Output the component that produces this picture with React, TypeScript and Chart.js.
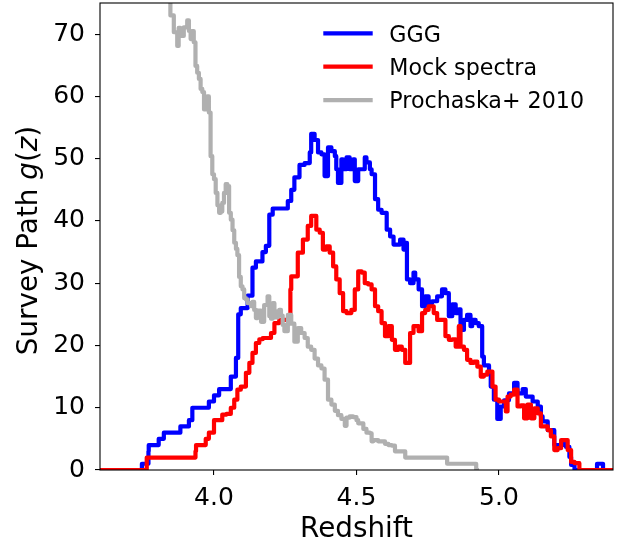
import React, { useEffect, useRef } from 'react';
import { Chart, registerables } from 'chart.js';

Chart.register(...registerables);

const FONT = '"DejaVu Sans", sans-serif';

const seriesNames = ['GGG', 'Mock spectra', 'Prochaska+ 2010'];
const seriesColors = ['#0000ff', '#ff0000', '#b0b0b0'];

const xTitle = 'Redshift';
const yTitleParts: [string, boolean][] = [
  ['Survey Path ', false],
  ['g', true],
  ['(', false],
  ['z', true],
  [')', false],
];

const xRange = [3.6, 5.4];
const yRange = [0, 75];
const xTickValues = [4.0, 4.5, 5.0];
const yTickValues = [0, 10, 20, 30, 40, 50, 60, 70];

// [redshift, g(z)]
const gggPoints: [number, number][] = [
  [3.6, 0], [3.747, 0], [3.748, 1], [3.770, 1], [3.771, 3], [3.806, 4], [3.824, 5], [3.882, 6],
  [3.912, 7], [3.924, 8], [3.982, 10], [4.0, 11], [4.018, 12], [4.059, 13], [4.077, 15], [4.085, 18],
  [4.094, 25], [4.118, 26], [4.135, 28], [4.147, 32.5], [4.170, 33.5], [4.182, 35], [4.194, 36],
  [4.206, 41], [4.224, 42], [4.259, 42], [4.271, 43.2], [4.282, 45], [4.300, 47], [4.318, 49],
  [4.336, 49.3], [4.341, 51], [4.353, 54], [4.365, 53], [4.377, 51], [4.388, 50.7], [4.400, 47.2],
  [4.412, 51.8], [4.424, 51.2], [4.429, 50.4], [4.435, 48.3], [4.447, 46.1], [4.453, 49.9],
  [4.465, 48.3], [4.476, 50.2], [4.488, 48.3], [4.494, 49.9], [4.506, 46.4], [4.518, 48.3],
  [4.529, 48.3], [4.535, 50.2], [4.547, 49.4], [4.553, 48.3], [4.565, 47.5], [4.576, 43.5],
  [4.588, 41.8], [4.606, 41.3], [4.618, 38.6], [4.630, 37.5], [4.635, 36.2], [4.653, 36.2],
  [4.665, 37], [4.671, 35.4], [4.677, 36.5], [4.688, 30.6], [4.700, 30], [4.706, 31.7],
  [4.718, 30.6], [4.730, 29], [4.741, 26.3], [4.753, 27.9], [4.765, 26.8], [4.783, 27.1],
  [4.800, 27.9], [4.812, 29], [4.824, 28.4], [4.836, 24.7], [4.848, 26.6], [4.859, 25.2],
  [4.865, 25.8], [4.877, 22.5], [4.888, 24.1], [4.900, 24.9], [4.906, 23.1], [4.918, 24.1],
  [4.929, 23.6], [4.941, 23.1], [4.947, 18.2], [4.953, 16.8], [4.965, 16.8], [4.971, 15.6],
  [4.982, 13.4], [4.994, 11.3], [5.006, 8.2], [5.018, 10.2], [5.024, 11.2], [5.035, 11.2],
  [5.053, 12.3], [5.065, 14], [5.077, 12.3], [5.083, 12.3], [5.094, 13], [5.106, 11.8],
  [5.118, 11.8], [5.124, 11], [5.136, 11], [5.147, 10.2], [5.153, 8.6], [5.171, 7.8],
  [5.182, 6.4], [5.194, 6.4], [5.206, 4], [5.224, 4], [5.235, 4.8], [5.247, 3.7], [5.253, 2.1],
  [5.265, 0.8], [5.271, 0], [5.344, 0], [5.347, 1], [5.365, 1], [5.368, 0], [5.41, 0],
];

const mockPoints: [number, number][] = [
  [3.6, 0], [3.764, 0], [3.766, 2], [3.935, 2], [3.937, 3], [3.953, 4], [3.971, 4], [3.982, 5],
  [4.0, 6], [4.009, 8], [4.029, 8], [4.044, 8.9], [4.059, 9], [4.071, 10], [4.082, 11.3],
  [4.094, 12.9], [4.112, 13.4], [4.124, 15.6], [4.135, 17.2], [4.147, 18.8], [4.159, 20.4],
  [4.171, 21], [4.200, 21.2], [4.212, 22], [4.229, 23.6], [4.247, 24.1], [4.268, 24.1],
  [4.271, 29], [4.294, 31.1], [4.312, 34.9], [4.329, 37], [4.341, 39.2], [4.359, 40.8],
  [4.371, 38.6], [4.382, 38.1], [4.394, 35.4], [4.406, 35.9], [4.418, 34.9], [4.429, 32.7],
  [4.441, 30.6], [4.453, 28.4], [4.465, 25.5], [4.482, 25.2], [4.494, 25.7], [4.506, 29],
  [4.518, 31.9], [4.529, 31.7], [4.541, 30], [4.553, 29.8], [4.565, 29], [4.576, 26.3],
  [4.588, 25.5], [4.600, 23.6], [4.612, 21.5], [4.624, 23.1], [4.635, 20.9], [4.647, 19.3],
  [4.659, 19.8], [4.671, 19.3], [4.688, 17.2], [4.700, 22], [4.718, 23.1], [4.730, 22.3],
  [4.741, 25.2], [4.753, 25.7], [4.771, 26.3], [4.783, 25.2], [4.800, 24.1], [4.812, 24.1],
  [4.824, 21.5], [4.836, 20.9], [4.848, 21], [4.859, 19.8], [4.865, 23.1], [4.877, 19.8],
  [4.888, 19.3], [4.900, 17.7], [4.912, 17.2], [4.924, 17.4], [4.936, 16.6], [4.947, 15],
  [4.959, 15.3], [4.977, 15.8], [4.988, 13.4], [5.000, 11.3], [5.012, 11], [5.024, 11],
  [5.030, 9.4], [5.041, 11.8], [5.053, 12.1], [5.065, 12.9], [5.077, 10.2], [5.088, 10.4],
  [5.100, 8.3], [5.112, 10.5], [5.124, 8.3], [5.136, 9.9], [5.147, 9.1], [5.159, 7], [5.171, 7],
  [5.182, 6.4], [5.194, 5.4], [5.206, 3.2], [5.218, 3.5], [5.230, 4.8], [5.241, 4.8],
  [5.253, 3.2], [5.265, 1.3], [5.282, 1.1], [5.294, 0], [5.41, 0],
];

const prochaskaPoints: [number, number][] = [
  [3.835, 80], [3.847, 75.5], [3.859, 73], [3.871, 70.3], [3.876, 68.1], [3.882, 71],
  [3.894, 69.7], [3.906, 71.1], [3.912, 72.2], [3.918, 70.5], [3.924, 69.2], [3.929, 70.5],
  [3.935, 68.7], [3.941, 64.9], [3.947, 63.8], [3.953, 62.8], [3.959, 61.2], [3.965, 60.7],
  [3.971, 57.9], [3.976, 59.5], [3.982, 60], [3.988, 57.4], [3.994, 50.4], [4.0, 47.5],
  [4.006, 46.7], [4.012, 44.5], [4.018, 42.5], [4.024, 41.3], [4.029, 41.5], [4.035, 42.9],
  [4.041, 44.5], [4.047, 45.9], [4.053, 45.6], [4.059, 41.3], [4.065, 40.2], [4.071, 38.5],
  [4.077, 36.5], [4.082, 35.5], [4.088, 34.5], [4.094, 31], [4.100, 29.5], [4.106, 29],
  [4.112, 27.6], [4.118, 27.4], [4.130, 26.8], [4.135, 26.3], [4.141, 27], [4.147, 25.7],
  [4.153, 24.4], [4.165, 25.6], [4.176, 23.8], [4.188, 26.5], [4.194, 27.9], [4.200, 24.7],
  [4.206, 24.3], [4.212, 26.8], [4.218, 25.2], [4.224, 24.5], [4.229, 25.5], [4.235, 25.7],
  [4.241, 24.8], [4.247, 23.3], [4.259, 22.3], [4.271, 24.9], [4.282, 23.5], [4.294, 20.6],
  [4.306, 22.8], [4.318, 22], [4.329, 21.2], [4.341, 19.8], [4.353, 19.3], [4.365, 17.9],
  [4.377, 16.8], [4.388, 16.3], [4.400, 14.5], [4.412, 11.3], [4.424, 10.5], [4.435, 9.5],
  [4.447, 8.8], [4.459, 8.2], [4.465, 7.1], [4.476, 8.4], [4.488, 8.6], [4.500, 8.5],
  [4.506, 8], [4.524, 7.5], [4.535, 6.6], [4.547, 6], [4.553, 5.9], [4.559, 4.6], [4.576, 4.8],
  [4.600, 4.6], [4.612, 4.2], [4.624, 4], [4.635, 3.9], [4.641, 3], [4.671, 3], [4.677, 2],
  [4.818, 2], [4.825, 1], [4.920, 1], [4.924, 0], [4.93, 0],
];

const allPoints = [gggPoints, mockPoints, prochaskaPoints];

const overlayPlugin = {
  id: 'overlay',
  afterDatasetsDraw(chart: any) {
    const ctx: CanvasRenderingContext2D = chart.ctx;
    const a = chart.chartArea;
    ctx.save();
    // frame
    ctx.strokeStyle = '#000';
    ctx.lineWidth = 1.1;
    ctx.strokeRect(a.left, a.top, a.right - a.left, a.bottom - a.top);

    // legend
    ctx.font = `22.2px ${FONT}`;
    ctx.textAlign = 'left';
    ctx.textBaseline = 'alphabetic';
    seriesNames.forEach((name, i) => {
      const y = a.top + 30.3 + i * 33.4;
      ctx.strokeStyle = seriesColors[i];
      ctx.lineWidth = 4.2;
      ctx.lineCap = 'butt';
      ctx.beginPath();
      ctx.moveTo(a.left + 223.3, y);
      ctx.lineTo(a.left + 272.7, y);
      ctx.stroke();
      ctx.fillStyle = '#000';
      ctx.fillText(name, a.left + 289.3, y + 8.3);
    });

    // x title
    ctx.font = `27.8px ${FONT}`;
    ctx.textAlign = 'center';
    ctx.fillStyle = '#000';
    ctx.fillText(xTitle, (a.left + a.right) / 2, a.bottom + 67.3);

    // y title (mixed upright / italic)
    const widths = yTitleParts.map(([t, it]) => {
      ctx.font = `${it ? 'italic ' : ''}27.8px ${FONT}`;
      return ctx.measureText(t).width;
    });
    const total = widths.reduce((s, w) => s + w, 0);
    ctx.translate(a.left - 63.5, (a.top + a.bottom) / 2 + 4);
    ctx.rotate(-Math.PI / 2);
    ctx.textAlign = 'left';
    let x = -total / 2;
    yTitleParts.forEach(([t, it], i) => {
      ctx.font = `${it ? 'italic ' : ''}27.8px ${FONT}`;
      ctx.fillText(t, x, 0);
      x += widths[i];
    });
    ctx.restore();
  },
};

export default function App() {
  const canvasRef = useRef<HTMLCanvasElement | null>(null);

  useEffect(() => {
    const canvas = canvasRef.current;
    if (!canvas) return;
    const chart = new Chart(canvas, {
      type: 'line',
      data: {
        datasets: allPoints.map((pts, i) => ({
          label: seriesNames[i],
          data: pts.map(([x, y]) => ({ x, y })),
          borderColor: seriesColors[i],
          backgroundColor: seriesColors[i],
          borderWidth: 4.2,
          pointRadius: 0,
          pointHoverRadius: 0,
          tension: 0,
          stepped: 'after',
          fill: false,
          borderJoinStyle: 'round',
          borderCapStyle: 'butt',
          clip: 0,
          order: 3 - i,
        })),
      },
      options: {
        responsive: false,
        animation: false,
        devicePixelRatio: 1,
        parsing: false as any,
        normalized: true,
        layout: { padding: { top: 3, right: 4, left: 0, bottom: 0 } },
        plugins: {
          legend: { display: false },
          tooltip: { enabled: false },
        },
        scales: {
          x: {
            type: 'linear',
            min: xRange[0],
            max: xRange[1],
            border: { display: false },
            grid: {
              display: true,
              drawOnChartArea: false,
              drawTicks: true,
              tickLength: 5,
              tickColor: '#000',
              lineWidth: 1.1,
            },
            ticks: {
              color: '#000',
              font: { family: FONT, size: 25 },
              padding: 8,
              maxRotation: 0,
              autoSkip: false,
              callback: (v: any) => Number(v).toFixed(1),
            },
            afterBuildTicks: (scale: any) => {
              scale.ticks = xTickValues.map((v) => ({ value: v }));
            },
            afterFit: (scale: any) => {
              scale.height = 75;
              scale.paddingLeft = 0;
              scale.paddingRight = 0;
            },
          },
          y: {
            type: 'linear',
            min: yRange[0],
            max: yRange[1],
            border: { display: false },
            grid: {
              display: true,
              drawOnChartArea: false,
              drawTicks: true,
              tickLength: 5,
              tickColor: '#000',
              lineWidth: 1.1,
            },
            ticks: {
              color: '#000',
              font: { family: FONT, size: 25 },
              padding: 10,
              autoSkip: false,
              callback: (v: any) => String(v),
            },
            afterBuildTicks: (scale: any) => {
              scale.ticks = yTickValues.map((v) => ({ value: v }));
            },
            afterFit: (scale: any) => {
              scale.width = 100;
              scale.paddingTop = 0;
              scale.paddingBottom = 0;
            },
          },
        },
      },
      plugins: [overlayPlugin],
    });
    return () => chart.destroy();
  }, []);

  return (
    <div style={{ position: 'absolute', left: 0, top: 0, width: 617, height: 545, background: '#fff' }}>
      <canvas ref={canvasRef} width={617} height={545} style={{ display: 'block' }} />
    </div>
  );
}
